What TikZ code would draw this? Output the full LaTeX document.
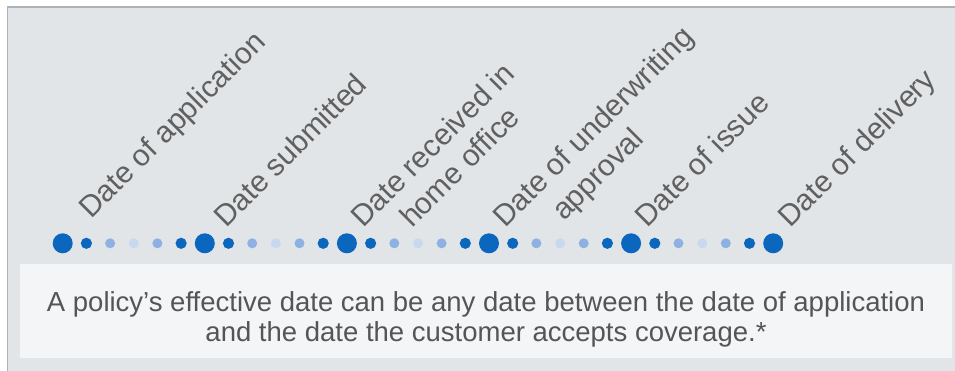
\documentclass[tikz,border=0pt]{standalone}
\usepackage{fontspec}
\setmainfont{Liberation Sans}
\definecolor{framegray}{HTML}{AEB2B6}
\definecolor{panelgray}{HTML}{E2E5E8}
\definecolor{notewhite}{HTML}{F4F5F6}
\definecolor{dotblue}{HTML}{0B66BD}
\definecolor{dotmid}{HTML}{8FB0E2}
\definecolor{dotpale}{HTML}{C8D8EF}
\definecolor{labelgray}{HTML}{606060}
\definecolor{notegray}{HTML}{555555}
\begin{document}
\begin{tikzpicture}[x=1pt,y=-1pt,
  lbl/.style={rotate=45,anchor=base west,inner sep=0pt,text=labelgray,font=\fontsize{30}{35}\selectfont},
  note/.style={align=center,inner sep=0pt,text=notegray,font=\fontsize{27.5}{30}\selectfont}]
 \useasboundingbox (0,0) rectangle (955,370);
 \clip (0,0) rectangle (955,370);
 \draw[line width=1.5pt,draw=framegray,fill=panelgray](7.5,7) rectangle (975,390);
 \fill[notewhite](20,264) rectangle (952,358);
 % milestones
 \fill[dotblue](62.7,243.3) circle (10);
 \fill[dotblue](204.8,243.3) circle (10);
 \fill[dotblue](346.9,243.3) circle (10);
 \fill[dotblue](489.0,243.3) circle (10);
 \fill[dotblue](631.1,243.3) circle (10);
 \fill[dotblue](773.2,243.3) circle (10);
 % steps between them
 \fill[dotblue](86.4,243.3) circle (5.6);
 \fill[dotmid](110.1,243.3) circle (5);
 \fill[dotpale](133.8,243.3) circle (5);
 \fill[dotmid](157.4,243.3) circle (5);
 \fill[dotblue](181.1,243.3) circle (5.6);
 \fill[dotblue](228.5,243.3) circle (5.6);
 \fill[dotmid](252.2,243.3) circle (5);
 \fill[dotpale](275.9,243.3) circle (5);
 \fill[dotmid](299.5,243.3) circle (5);
 \fill[dotblue](323.2,243.3) circle (5.6);
 \fill[dotblue](370.6,243.3) circle (5.6);
 \fill[dotmid](394.3,243.3) circle (5);
 \fill[dotpale](418.0,243.3) circle (5);
 \fill[dotmid](441.6,243.3) circle (5);
 \fill[dotblue](465.3,243.3) circle (5.6);
 \fill[dotblue](512.7,243.3) circle (5.6);
 \fill[dotmid](536.4,243.3) circle (5);
 \fill[dotpale](560.1,243.3) circle (5);
 \fill[dotmid](583.7,243.3) circle (5);
 \fill[dotblue](607.4,243.3) circle (5.6);
 \fill[dotblue](654.8,243.3) circle (5.6);
 \fill[dotmid](678.5,243.3) circle (5);
 \fill[dotpale](702.2,243.3) circle (5);
 \fill[dotmid](725.8,243.3) circle (5);
 \fill[dotblue](749.5,243.3) circle (5.6);
 % labels
 \node[lbl] (application) at (91,220) {Date of application};
 \node[lbl] (submitted) at (226,229) {Date submitted};
 \node[lbl] (received) at (363,229) {Date received in};
 \node[lbl] (received2) at (412,229) {home office};
 \node[lbl] (approval) at (505,229) {Date of underwriting};
 \node[lbl] (approval2) at (564,222) {approval};
 \node[lbl] (issue) at (647,229) {Date of issue};
 \node[lbl] (delivery) at (790,229) {Date of delivery};
 \node[note] (effective) at (486,319.5) {A policy’s effective date can be any date between the date of application\\and the date the customer accepts coverage.*};
\end{tikzpicture}
\end{document}
